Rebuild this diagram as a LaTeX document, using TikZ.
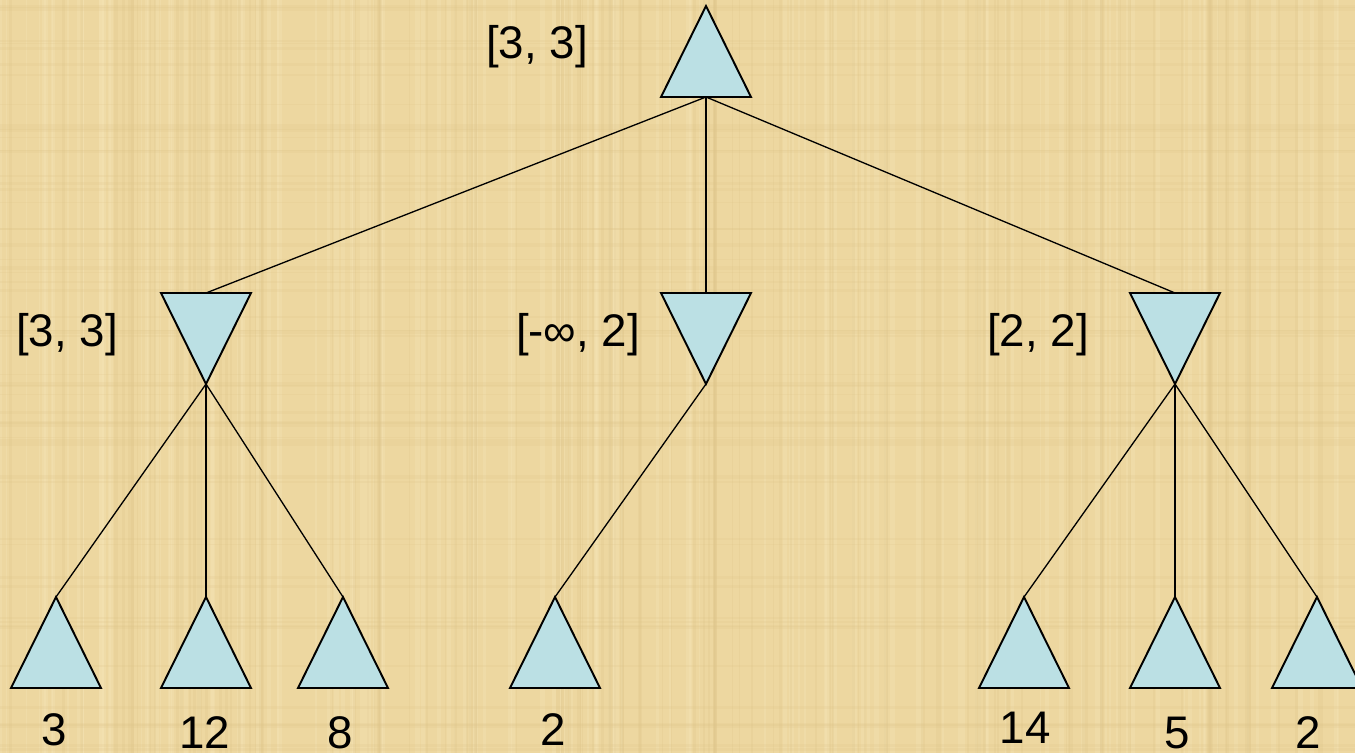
\documentclass[tikz,border=0pt]{standalone}
\usepackage{fontspec}
\setmainfont{Liberation Sans}
\definecolor{parch}{RGB}{237,215,160}
\definecolor{parchlight}{RGB}{245,228,182}
\definecolor{parchdark}{RGB}{222,196,138}
\definecolor{triblue}{RGB}{187,224,228}
\newcommand\uptri[3]{%
  \coordinate (#1-top) at (#2,#3);
  \coordinate (#1-bot) at (#2,#3+91);
  \draw[tri] (#2,#3) -- (#2+45,#3+91) -- (#2-45,#3+91) -- cycle;}
\newcommand\downtri[3]{%
  \coordinate (#1-top) at (#2,#3);
  \coordinate (#1-bot) at (#2,#3+91);
  \draw[tri] (#2-45,#3) -- (#2+45,#3) -- (#2,#3+91) -- cycle;}
\begin{document}
\begin{tikzpicture}[x=0.02cm,y=-0.02cm,
  tri/.style={draw=black, fill=triblue, line width=1.1pt, line join=miter},
  edge/.style={draw=black, line width=0.75pt},
  lbl/.style={font=\fontsize{26}{30}\selectfont, inner sep=0pt, text=black}]
\useasboundingbox (0,0) rectangle (1355,753);
\clip (0,0) rectangle (1355,753);
\fill[parch] (0,0) rectangle (1355,753);
% subtle parchment texture
\pgfmathsetseed{7}
\foreach \i in {1,...,140}{
  \pgfmathsetmacro{\xx}{rnd*1355}
  \pgfmathsetmacro{\ww}{1+rnd*4}
  \fill[parchlight, opacity=0.35] (\xx,0) rectangle (\xx+\ww,753);
}
\foreach \i in {1,...,120}{
  \pgfmathsetmacro{\xx}{rnd*1355}
  \pgfmathsetmacro{\ww}{1+rnd*3}
  \fill[parchdark, opacity=0.25] (\xx,0) rectangle (\xx+\ww,753);
}
\foreach \i in {1,...,60}{
  \pgfmathsetmacro{\yy}{rnd*753}
  \pgfmathsetmacro{\hh}{1+rnd*3}
  \fill[parchdark, opacity=0.2] (0,\yy) rectangle (1355,\yy+\hh);
}
% coordinates
\coordinate (root-bot) at (706,97);
\coordinate (A-top) at (206,293); \coordinate (A-bot) at (206,384);
\coordinate (B-top) at (706,293); \coordinate (B-bot) at (706,384);
\coordinate (C-top) at (1175,293); \coordinate (C-bot) at (1175,384);
\coordinate (L1-top) at (56,597);
\coordinate (L2-top) at (206,597);
\coordinate (L3-top) at (343,597);
\coordinate (L4-top) at (555,597);
\coordinate (L5-top) at (1024,597);
\coordinate (L6-top) at (1175,597);
\coordinate (L7-top) at (1317,597);
% edges
\draw[edge] (root-bot) -- (A-top);
\draw[edge] (root-bot) -- (B-top);
\draw[edge] (root-bot) -- (C-top);
\draw[edge] (A-bot) -- (L1-top);
\draw[edge] (A-bot) -- (L2-top);
\draw[edge] (A-bot) -- (L3-top);
\draw[edge] (B-bot) -- (L4-top);
\draw[edge] (C-bot) -- (L5-top);
\draw[edge] (C-bot) -- (L6-top);
\draw[edge] (C-bot) -- (L7-top);
% triangles
\uptri{root}{706}{6}
\downtri{A}{206}{293}
\downtri{B}{706}{293}
\downtri{C}{1175}{293}
\uptri{L1}{56}{597}
\uptri{L2}{206}{597}
\uptri{L3}{343}{597}
\uptri{L4}{555}{597}
\uptri{L5}{1024}{597}
\uptri{L6}{1175}{597}
\uptri{L7}{1317}{597}
% labels
\node[lbl] (lroot) at (537,47) {[3, 3]};
\node[lbl] (lA) at (67,335) {[3, 3]};
\node[lbl] (lB) at (578,335) {[-∞, 2]};
\node[lbl] (lC) at (1038,335) {[2, 2]};
\node[lbl] (v1) at (54,730) {3};
\node[lbl] (v2) at (205,733) {12};
\node[lbl] (v3) at (340,733) {8};
\node[lbl] (v4) at (553,730) {2};
\node[lbl] (v5) at (1025,728) {14};
\node[lbl] (v6) at (1177,733) {5};
\node[lbl] (v7) at (1308,733) {2};
\end{tikzpicture}
\end{document}
